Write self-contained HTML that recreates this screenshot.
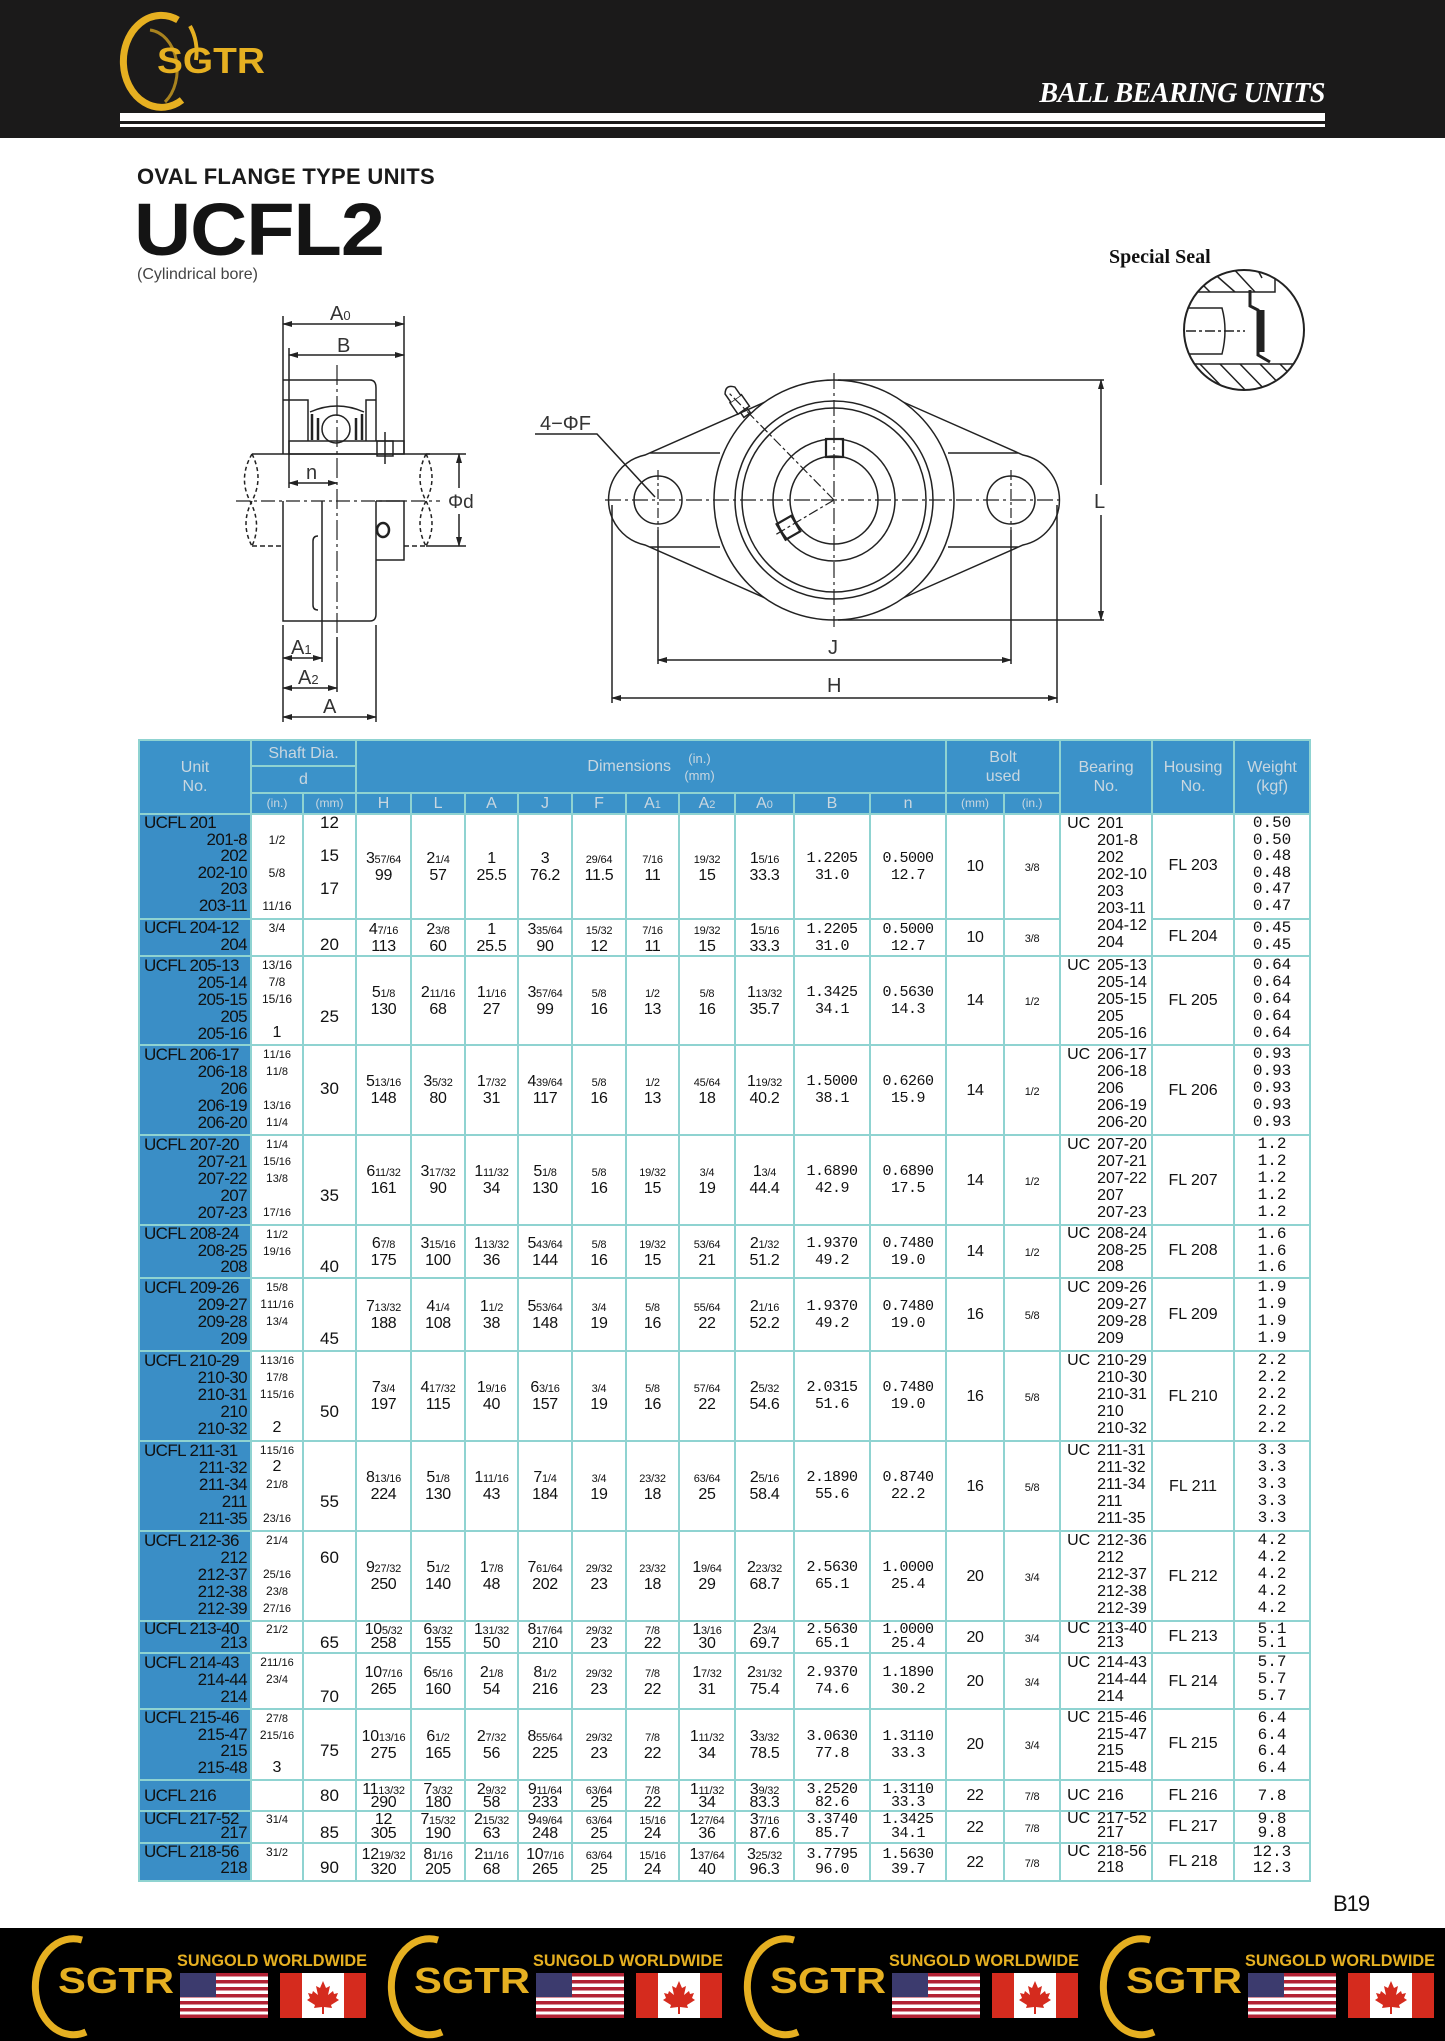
<!DOCTYPE html>
<html><head><meta charset="utf-8">
<style>
*{margin:0;padding:0;box-sizing:border-box}
body{width:1445px;height:2041px;position:relative;background:#fff;font-family:"Liberation Sans",sans-serif;color:#111;overflow:hidden}
.abs{position:absolute}
#hdr{left:0;top:0;width:1445px;height:138px;background:#1b1a1a}
#ftr{left:0;top:1928px;width:1445px;height:113px;background:#000}
table{position:absolute;left:138px;top:739px;width:1171px;border-collapse:collapse;table-layout:fixed;font-size:16px}
td{border:2px solid #8fd3d1;padding:0;text-align:center;vertical-align:middle;overflow:hidden;white-space:nowrap}
td small,td .big,td .sm{line-height:0}
tr.h td{background:#3b92c9;color:#c9d7e0;font-size:16px;line-height:19px}
tr.h td.s{font-size:12px}
td.u{background:#3a8ec6;vertical-align:top;padding:0 3px 0 4px;font-size:17px;letter-spacing:-0.6px}
td.u div{text-align:right}
td.u div.f{text-align:left}
td.l{vertical-align:top;font-size:12px}
td.l .big{font-size:16px}
td.l small{font-size:11px}
td.m{vertical-align:top;font-size:17px}
td.d{line-height:17px;font-size:16px;letter-spacing:-0.3px}
td.d small{font-size:11px;letter-spacing:-0.2px}
td.d.mo{font-family:"Liberation Mono",monospace;font-size:15px;letter-spacing:-0.5px}
td.b{vertical-align:top;text-align:left;padding-left:36px;font-size:16px}
.uc{display:inline-block;width:30px;margin-left:-30px}
td.w{vertical-align:top;font-family:"Liberation Mono",monospace;font-size:16px}
td.fl{font-size:16px}
.sm{font-size:11px}
</style></head><body>
<div id="hdr" class="abs"></div>
<div id="ftr" class="abs"></div>
<div class="abs" style="left:120px;top:113px;width:1205px;height:8px;background:#fff"></div>
<div class="abs" style="left:120px;top:124px;width:1205px;height:3px;background:#fff"></div>
<div class="abs" style="left:990px;top:78px;width:335px;text-align:right;font:italic bold 28px 'Liberation Serif',serif;color:#fff;letter-spacing:-0.5px">BALL BEARING UNITS</div>
<div class="abs" style="left:137px;top:164px;font:bold 22px 'Liberation Sans',sans-serif;color:#1a1a1a;letter-spacing:0.3px">OVAL FLANGE TYPE UNITS</div>
<div class="abs" style="left:134px;top:190px;font:900 74px/80px 'Liberation Sans',sans-serif;color:#141414;letter-spacing:-1px;transform:scaleX(1.07);transform-origin:left">UCFL2</div>
<div class="abs" style="left:137px;top:266px;font-size:16px;color:#444">(Cylindrical bore)</div>
<div class="abs" style="left:1109px;top:246px;font:bold 20px 'Liberation Serif',serif;color:#111">Special Seal</div>
<div class="abs" style="left:1333px;top:1891px;font-size:22px;color:#111;letter-spacing:-1px">B19</div>

<svg class="abs" style="left:0;top:0" width="1445" height="2041" viewBox="0 0 1445 2041">
<defs>
<marker id="ar" markerWidth="10" markerHeight="6" refX="9" refY="3" orient="auto-start-reverse" markerUnits="userSpaceOnUse"><path d="M0,0 L10,3 L0,6z" fill="#222"/></marker>
<g id="usf"><rect width="88" height="45" fill="#fff"/>
<g fill="#b22234"><rect y="0" width="88" height="3.5"/><rect y="7" width="88" height="3.5"/><rect y="14" width="88" height="3.5"/><rect y="21" width="88" height="3.5"/><rect y="28" width="88" height="3.5"/><rect y="35" width="88" height="3.5"/><rect y="41.5" width="88" height="3.5"/></g>
<rect width="36" height="24" fill="#3c3b6e"/></g>
<g id="caf"><rect width="86" height="45" fill="#fff"/><rect width="22" height="45" fill="#d52b1e"/><rect x="64" width="22" height="45" fill="#d52b1e"/>
<path d="M43,8 L46,15 L50,13 L48,22 L53,18 L54,21 L58,20 L56,25 L59,27 L51,32 L52,35 L44,34 L44,41 L42,41 L42,34 L34,35 L35,32 L27,27 L30,25 L28,20 L32,21 L33,18 L38,22 L36,13 L40,15z" fill="#d52b1e"/></g>
</defs>

<!-- header logo -->
<g fill="none" stroke="#e6b021" stroke-width="7">
<path d="M178,20 A38,46 0 1 0 182,100"/>
<path d="M190,26 A34,44 0 0 1 196,60" stroke-width="4"/>
<path d="M165,102 A30,40 0 0 0 150,30" stroke-width="3" opacity="0.7"/>
</g>
<text x="157" y="73" font-family="Liberation Sans" font-weight="bold" font-size="36" fill="#e6b021" textLength="108" lengthAdjust="spacingAndGlyphs">SGTR</text>

<!-- side view -->
<g stroke="#222" stroke-width="1.5" fill="none">
<line x1="283" y1="316" x2="283" y2="380"/>
<line x1="404" y1="316" x2="404" y2="454"/>
<line x1="283" y1="324" x2="404" y2="324" marker-start="url(#ar)" marker-end="url(#ar)"/>
<line x1="289" y1="348" x2="289" y2="488"/>
<line x1="289" y1="355" x2="404" y2="355" marker-start="url(#ar)" marker-end="url(#ar)"/>
<path d="M283,380 L370,380 Q376,380 376,388 L376,441"/>
<line x1="283" y1="380" x2="283" y2="454"/>
<path d="M283,400 L308,400 L308,441"/>
<path d="M366,441 L366,400 L376,400"/>
<path d="M310,412 Q337,400 364,412"/>
<circle cx="336" cy="429" r="14"/>
<path d="M312,414 L312,440 M318,418 L318,440 M356,418 L356,440 M362,414 L362,440" stroke-width="2.5"/>
<rect x="289" y="441" width="115" height="13"/>
<rect x="377" y="441" width="16" height="15"/>
<line x1="385" y1="432" x2="385" y2="464"/>
<line x1="252" y1="454" x2="430" y2="454"/>
<path d="M252,546 L283,546 M404,546 L426,546" stroke-dasharray="5 3"/>
<path d="M252,454 Q238,478 250,501 Q262,524 252,546" stroke-dasharray="4 3"/>
<path d="M252,454 Q264,478 252,501 Q240,524 252,546" stroke-dasharray="4 3"/>
<path d="M426,454 Q414,478 426,501 Q438,524 426,546" stroke-dasharray="4 3"/>
<path d="M426,454 Q438,478 426,501 Q414,524 426,546" stroke-dasharray="4 3"/>
<path d="M236,501 L440,501" stroke-dasharray="14 4 3 4" stroke-width="1.2"/>
<path d="M283,501 L283,621 L370,621 Q376,621 376,614 L376,501"/>
<path d="M376,501 L404,501 L404,560 L376,560"/>
<path d="M318,536 Q313,536 313,541 L313,605 Q313,610 318,610"/>
<line x1="322" y1="501" x2="322" y2="662"/>
<ellipse cx="383" cy="530" rx="6" ry="7" stroke-width="2.5"/>
<path d="M337,365 L337,637" stroke-dasharray="20 4 3 4" stroke-width="1.2"/>
<line x1="337" y1="637" x2="337" y2="692"/>
<line x1="426" y1="454" x2="466" y2="454"/>
<line x1="426" y1="546" x2="466" y2="546"/>
<line x1="459" y1="454" x2="459" y2="488" marker-start="url(#ar)"/>
<line x1="459" y1="514" x2="459" y2="546" marker-end="url(#ar)"/>
<line x1="289" y1="483" x2="337" y2="483" marker-start="url(#ar)" marker-end="url(#ar)"/>
<line x1="283" y1="625" x2="283" y2="722"/>
<line x1="376" y1="625" x2="376" y2="722"/>
<line x1="283" y1="658" x2="322" y2="658" marker-start="url(#ar)" marker-end="url(#ar)"/>
<line x1="283" y1="688" x2="337" y2="688" marker-start="url(#ar)" marker-end="url(#ar)"/>
<line x1="283" y1="717" x2="376" y2="717" marker-start="url(#ar)" marker-end="url(#ar)"/>
</g>
<g font-family="Liberation Sans" font-size="20" fill="#333">
<text x="330" y="320">A<tspan font-size="13">0</tspan></text>
<text x="337" y="352">B</text>
<text x="306" y="479">n</text>
<text x="448" y="508" font-size="19">Φd</text>
<text x="291" y="654">A<tspan font-size="13">1</tspan></text>
<text x="298" y="684">A<tspan font-size="13">2</tspan></text>
<text x="323" y="713">A</text>
</g>

<!-- front view -->
<g stroke="#222" stroke-width="1.5" fill="none">
<path d="M765,402 L645,455 A46,46 0 0 0 645,545 L765,598"/>
<path d="M903,402 L1023,455 A46,46 0 0 1 1023,545 L903,598"/>
<path d="M650,453 L720,453 M650,547 L720,547 M948,453 L1018,453 M948,547 L1018,547"/>
<circle cx="834" cy="500" r="120" fill="#fff"/>
<circle cx="834" cy="500" r="99"/>
<circle cx="834" cy="500" r="92"/>
<circle cx="834" cy="500" r="61"/>
<circle cx="834" cy="500" r="44"/>
<circle cx="658" cy="500" r="24"/>
<circle cx="1011" cy="500" r="24"/>
<rect x="826" y="439" width="17" height="18" stroke-width="2.2"/>
<rect x="780" y="519" width="17" height="18" transform="rotate(-30 788 528)" stroke-width="2.2"/>
<g transform="rotate(-35 738 402)"><rect x="731" y="398" width="14" height="14" fill="#fff"/><path d="M732,398 L732,388 Q738,380 744,388 L744,398" fill="#fff"/><rect x="734" y="412" width="8" height="6"/></g>
<path d="M605,500 L1063,500" stroke-dasharray="16 4 3 4" stroke-width="1.2"/>
<path d="M834,373 L834,627" stroke-dasharray="16 4 3 4" stroke-width="1.2"/>
<path d="M658,470 L658,530 M1011,470 L1011,530" stroke-dasharray="10 3 3 3" stroke-width="1.2"/>
<path d="M834,500 L728,392 M834,500 L775,535" stroke-dasharray="10 3 3 3" stroke-width="1.2"/>
<line x1="658" y1="530" x2="658" y2="664"/>
<line x1="1011" y1="530" x2="1011" y2="664"/>
<line x1="658" y1="660" x2="1011" y2="660" marker-start="url(#ar)" marker-end="url(#ar)"/>
<line x1="612" y1="505" x2="612" y2="703"/>
<line x1="1057" y1="505" x2="1057" y2="703"/>
<line x1="612" y1="698" x2="1057" y2="698" marker-start="url(#ar)" marker-end="url(#ar)"/>
<line x1="838" y1="380" x2="1104" y2="380"/>
<line x1="838" y1="620" x2="1104" y2="620"/>
<line x1="1101" y1="380" x2="1101" y2="485" marker-start="url(#ar)"/>
<line x1="1101" y1="515" x2="1101" y2="620" marker-end="url(#ar)"/>
<path d="M535,434 L597,434 L655,497"/>
</g>
<g font-family="Liberation Sans" font-size="20" fill="#333">
<text x="540" y="430">4−ΦF</text>
<text x="828" y="654">J</text>
<text x="827" y="692">H</text>
<text x="1094" y="508">L</text>
</g>

<!-- special seal -->
<g stroke="#222" stroke-width="1.5" fill="none">
<clipPath id="sc"><circle cx="1244" cy="330" r="60"/></clipPath>
<g clip-path="url(#sc)">
<path d="M1180,308 L1222,308 Q1228,330 1222,354 L1180,354"/>
<path d="M1186,331 L1245,331" stroke-dasharray="10 3 3 3"/>
<path d="M1180,364 L1310,364"/>
<path d="M1200,364 L1230,395 M1220,364 L1250,395 M1240,364 L1270,395 M1260,364 L1290,395 M1280,364 L1310,395"/>
<path d="M1190,292 L1275,292 L1275,270"/>
<path d="M1210,270 L1235,292 M1230,265 L1255,292 M1255,265 L1262,278 M1200,282 L1210,292"/>
<path d="M1250,290 L1250,306 L1258,310 L1258,355 L1270,362" stroke-width="3"/>
<path d="M1262,310 L1262,352" stroke-width="5"/>
</g>
<circle cx="1244" cy="330" r="60" stroke-width="2"/>
</g>

<!-- footer units -->
<g>
<g fill="none" stroke="#e6b021" stroke-width="7">
<path d="M82,1940 A38,48 0 1 0 86,2032"/>
<path d="M438,1940 A38,48 0 1 0 442,2032"/>
<path d="M794,1940 A38,48 0 1 0 798,2032"/>
<path d="M1150,1940 A38,48 0 1 0 1154,2032"/>
</g>
<g font-family="Liberation Sans" font-weight="bold" font-size="36" fill="#e6b021">
<text x="58" y="1993" textLength="116" lengthAdjust="spacingAndGlyphs">SGTR</text>
<text x="414" y="1993" textLength="116" lengthAdjust="spacingAndGlyphs">SGTR</text>
<text x="770" y="1993" textLength="116" lengthAdjust="spacingAndGlyphs">SGTR</text>
<text x="1126" y="1993" textLength="116" lengthAdjust="spacingAndGlyphs">SGTR</text>
</g>
<g font-family="Liberation Sans" font-weight="bold" font-size="17" fill="#e6b021">
<text x="177" y="1966" textLength="190" lengthAdjust="spacingAndGlyphs">SUNGOLD WORLDWIDE</text>
<text x="533" y="1966" textLength="190" lengthAdjust="spacingAndGlyphs">SUNGOLD WORLDWIDE</text>
<text x="889" y="1966" textLength="190" lengthAdjust="spacingAndGlyphs">SUNGOLD WORLDWIDE</text>
<text x="1245" y="1966" textLength="190" lengthAdjust="spacingAndGlyphs">SUNGOLD WORLDWIDE</text>
</g>
<use href="#usf" x="180" y="1973"/><use href="#caf" x="280" y="1973"/>
<use href="#usf" x="536" y="1973"/><use href="#caf" x="636" y="1973"/>
<use href="#usf" x="892" y="1973"/><use href="#caf" x="992" y="1973"/>
<use href="#usf" x="1248" y="1973"/><use href="#caf" x="1348" y="1973"/>
</g>
</svg>

<table>
<colgroup><col style="width:112px"><col style="width:52px"><col style="width:53px"><col style="width:55px"><col style="width:54px"><col style="width:53px"><col style="width:54px"><col style="width:54px"><col style="width:53px"><col style="width:56px"><col style="width:59px"><col style="width:76px"><col style="width:76px"><col style="width:58px"><col style="width:56px"><col style="width:92px"><col style="width:82px"><col style="width:76px"></colgroup>
<tr class="h" style="height:26px"><td rowspan="3">Unit<br>No.</td><td colspan="2">Shaft Dia.</td><td colspan="10" rowspan="2">Dimensions &nbsp;&nbsp;<span style="display:inline-block;font-size:13px;line-height:17px;vertical-align:middle">(in.)<br>(mm)</span></td><td colspan="2" rowspan="2">Bolt<br>used</td><td rowspan="3">Bearing<br>No.</td><td rowspan="3">Housing<br>No.</td><td rowspan="3">Weight<br>(kgf)</td></tr>
<tr class="h" style="height:27px"><td colspan="2">d</td></tr>
<tr class="h" style="height:21px"><td class="s">(in.)</td><td class="s">(mm)</td><td>H</td><td>L</td><td>A</td><td>J</td><td>F</td><td>A<span class="sm">1</span></td><td>A<span class="sm">2</span></td><td>A<span class="sm">0</span></td><td>B</td><td>n</td><td class="s">(mm)</td><td class="s">(in.)</td></tr>

<tr style="height:105px;line-height:16.5px"><td class="u"><div class="f">UCFL 201</div><div>201-8</div><div>202</div><div>202-10</div><div>203</div><div>203-11</div></td>
<td class="l">&nbsp;<br>1/2<br>&nbsp;<br>5/8<br>&nbsp;<br>11/16</td><td class="m">12<br>&nbsp;<br>15<br>&nbsp;<br>17<br>&nbsp;</td>
<td class="d">3<small>57/64</small><br>99</td><td class="d">2<small>1/4</small><br>57</td><td class="d">1<br>25.5</td><td class="d">3<br>76.2</td><td class="d"><small>29/64</small><br>11.5</td><td class="d"><small>7/16</small><br>11</td><td class="d"><small>19/32</small><br>15</td><td class="d">1<small>5/16</small><br>33.3</td><td class="d mo">1.2205<br>31.0</td><td class="d mo">0.5000<br>12.7</td><td class="d">10</td><td class="d"><small>3/8</small></td>
<td class="b" rowspan="2" style="line-height:17px"><span class="uc">UC</span>201<br>201-8<br>202<br>202-10<br>203<br>203-11<br>204-12<br>204</td><td class="fl">FL 203</td><td class="w">0.50<br>0.50<br>0.48<br>0.48<br>0.47<br>0.47</td></tr>

<tr style="height:37px;line-height:16.5px"><td class="u"><div class="f">UCFL 204-12</div><div>204</div></td>
<td class="l">3/4<br>&nbsp;</td><td class="m">&nbsp;<br>20</td>
<td class="d">4<small>7/16</small><br>113</td><td class="d">2<small>3/8</small><br>60</td><td class="d">1<br>25.5</td><td class="d">3<small>35/64</small><br>90</td><td class="d"><small>15/32</small><br>12</td><td class="d"><small>7/16</small><br>11</td><td class="d"><small>19/32</small><br>15</td><td class="d">1<small>5/16</small><br>33.3</td><td class="d mo">1.2205<br>31.0</td><td class="d mo">0.5000<br>12.7</td><td class="d">10</td><td class="d"><small>3/8</small></td>
<td class="fl">FL 204</td><td class="w">0.45<br>0.45</td></tr>

<tr style="height:89px;line-height:17px"><td class="u"><div class="f">UCFL 205-13</div><div>205-14</div><div>205-15</div><div>205</div><div>205-16</div></td>
<td class="l">13/16<br>7/8<br>15/16<br>&nbsp;<br><span class="big">1</span></td><td class="m">&nbsp;<br>&nbsp;<br>&nbsp;<br>25<br>&nbsp;</td>
<td class="d">5<small>1/8</small><br>130</td><td class="d">2<small>11/16</small><br>68</td><td class="d">1<small>1/16</small><br>27</td><td class="d">3<small>57/64</small><br>99</td><td class="d"><small>5/8</small><br>16</td><td class="d"><small>1/2</small><br>13</td><td class="d"><small>5/8</small><br>16</td><td class="d">1<small>13/32</small><br>35.7</td><td class="d mo">1.3425<br>34.1</td><td class="d mo">0.5630<br>14.3</td><td class="d">14</td><td class="d"><small>1/2</small></td>
<td class="b"><span class="uc">UC</span>205-13<br>205-14<br>205-15<br>205<br>205-16</td><td class="fl">FL 205</td><td class="w">0.64<br>0.64<br>0.64<br>0.64<br>0.64</td></tr>

<tr style="height:90px;line-height:17px"><td class="u"><div class="f">UCFL 206-17</div><div>206-18</div><div>206</div><div>206-19</div><div>206-20</div></td>
<td class="l">1<small>1/16</small><br>1<small>1/8</small><br>&nbsp;<br>1<small>3/16</small><br>1<small>1/4</small></td><td class="m">&nbsp;<br>&nbsp;<br>30<br>&nbsp;<br>&nbsp;</td>
<td class="d">5<small>13/16</small><br>148</td><td class="d">3<small>5/32</small><br>80</td><td class="d">1<small>7/32</small><br>31</td><td class="d">4<small>39/64</small><br>117</td><td class="d"><small>5/8</small><br>16</td><td class="d"><small>1/2</small><br>13</td><td class="d"><small>45/64</small><br>18</td><td class="d">1<small>19/32</small><br>40.2</td><td class="d mo">1.5000<br>38.1</td><td class="d mo">0.6260<br>15.9</td><td class="d">14</td><td class="d"><small>1/2</small></td>
<td class="b"><span class="uc">UC</span>206-17<br>206-18<br>206<br>206-19<br>206-20</td><td class="fl">FL 206</td><td class="w">0.93<br>0.93<br>0.93<br>0.93<br>0.93</td></tr>

<tr style="height:90px;line-height:17px"><td class="u"><div class="f">UCFL 207-20</div><div>207-21</div><div>207-22</div><div>207</div><div>207-23</div></td>
<td class="l">1<small>1/4</small><br>1<small>5/16</small><br>1<small>3/8</small><br>&nbsp;<br>1<small>7/16</small></td><td class="m">&nbsp;<br>&nbsp;<br>&nbsp;<br>35<br>&nbsp;</td>
<td class="d">6<small>11/32</small><br>161</td><td class="d">3<small>17/32</small><br>90</td><td class="d">1<small>11/32</small><br>34</td><td class="d">5<small>1/8</small><br>130</td><td class="d"><small>5/8</small><br>16</td><td class="d"><small>19/32</small><br>15</td><td class="d"><small>3/4</small><br>19</td><td class="d">1<small>3/4</small><br>44.4</td><td class="d mo">1.6890<br>42.9</td><td class="d mo">0.6890<br>17.5</td><td class="d">14</td><td class="d"><small>1/2</small></td>
<td class="b"><span class="uc">UC</span>207-20<br>207-21<br>207-22<br>207<br>207-23</td><td class="fl">FL 207</td><td class="w">1.2<br>1.2<br>1.2<br>1.2<br>1.2</td></tr>

<tr style="height:53px;line-height:16.5px"><td class="u"><div class="f">UCFL 208-24</div><div>208-25</div><div>208</div></td>
<td class="l">1<small>1/2</small><br>1<small>9/16</small><br>&nbsp;</td><td class="m">&nbsp;<br>&nbsp;<br>40</td>
<td class="d">6<small>7/8</small><br>175</td><td class="d">3<small>15/16</small><br>100</td><td class="d">1<small>13/32</small><br>36</td><td class="d">5<small>43/64</small><br>144</td><td class="d"><small>5/8</small><br>16</td><td class="d"><small>19/32</small><br>15</td><td class="d"><small>53/64</small><br>21</td><td class="d">2<small>1/32</small><br>51.2</td><td class="d mo">1.9370<br>49.2</td><td class="d mo">0.7480<br>19.0</td><td class="d">14</td><td class="d"><small>1/2</small></td>
<td class="b"><span class="uc">UC</span>208-24<br>208-25<br>208</td><td class="fl">FL 208</td><td class="w">1.6<br>1.6<br>1.6</td></tr>

<tr style="height:73px;line-height:17px"><td class="u"><div class="f">UCFL 209-26</div><div>209-27</div><div>209-28</div><div>209</div></td>
<td class="l">1<small>5/8</small><br>1<small>11/16</small><br>1<small>3/4</small><br>&nbsp;</td><td class="m">&nbsp;<br>&nbsp;<br>&nbsp;<br>45</td>
<td class="d">7<small>13/32</small><br>188</td><td class="d">4<small>1/4</small><br>108</td><td class="d">1<small>1/2</small><br>38</td><td class="d">5<small>53/64</small><br>148</td><td class="d"><small>3/4</small><br>19</td><td class="d"><small>5/8</small><br>16</td><td class="d"><small>55/64</small><br>22</td><td class="d">2<small>1/16</small><br>52.2</td><td class="d mo">1.9370<br>49.2</td><td class="d mo">0.7480<br>19.0</td><td class="d">16</td><td class="d"><small>5/8</small></td>
<td class="b"><span class="uc">UC</span>209-26<br>209-27<br>209-28<br>209</td><td class="fl">FL 209</td><td class="w">1.9<br>1.9<br>1.9<br>1.9</td></tr>

<tr style="height:90px;line-height:17px"><td class="u"><div class="f">UCFL 210-29</div><div>210-30</div><div>210-31</div><div>210</div><div>210-32</div></td>
<td class="l">1<small>13/16</small><br>1<small>7/8</small><br>1<small>15/16</small><br>&nbsp;<br><span class="big">2</span></td><td class="m">&nbsp;<br>&nbsp;<br>&nbsp;<br>50<br>&nbsp;</td>
<td class="d">7<small>3/4</small><br>197</td><td class="d">4<small>17/32</small><br>115</td><td class="d">1<small>9/16</small><br>40</td><td class="d">6<small>3/16</small><br>157</td><td class="d"><small>3/4</small><br>19</td><td class="d"><small>5/8</small><br>16</td><td class="d"><small>57/64</small><br>22</td><td class="d">2<small>5/32</small><br>54.6</td><td class="d mo">2.0315<br>51.6</td><td class="d mo">0.7480<br>19.0</td><td class="d">16</td><td class="d"><small>5/8</small></td>
<td class="b"><span class="uc">UC</span>210-29<br>210-30<br>210-31<br>210<br>210-32</td><td class="fl">FL 210</td><td class="w">2.2<br>2.2<br>2.2<br>2.2<br>2.2</td></tr>

<tr style="height:90px;line-height:17px"><td class="u"><div class="f">UCFL 211-31</div><div>211-32</div><div>211-34</div><div>211</div><div>211-35</div></td>
<td class="l">1<small>15/16</small><br><span class="big">2</span><br>2<small>1/8</small><br>&nbsp;<br>2<small>3/16</small></td><td class="m">&nbsp;<br>&nbsp;<br>&nbsp;<br>55<br>&nbsp;</td>
<td class="d">8<small>13/16</small><br>224</td><td class="d">5<small>1/8</small><br>130</td><td class="d">1<small>11/16</small><br>43</td><td class="d">7<small>1/4</small><br>184</td><td class="d"><small>3/4</small><br>19</td><td class="d"><small>23/32</small><br>18</td><td class="d"><small>63/64</small><br>25</td><td class="d">2<small>5/16</small><br>58.4</td><td class="d mo">2.1890<br>55.6</td><td class="d mo">0.8740<br>22.2</td><td class="d">16</td><td class="d"><small>5/8</small></td>
<td class="b"><span class="uc">UC</span>211-31<br>211-32<br>211-34<br>211<br>211-35</td><td class="fl">FL 211</td><td class="w">3.3<br>3.3<br>3.3<br>3.3<br>3.3</td></tr>

<tr style="height:90px;line-height:17px"><td class="u"><div class="f">UCFL 212-36</div><div>212</div><div>212-37</div><div>212-38</div><div>212-39</div></td>
<td class="l">2<small>1/4</small><br>&nbsp;<br>2<small>5/16</small><br>2<small>3/8</small><br>2<small>7/16</small></td><td class="m">&nbsp;<br>60<br>&nbsp;<br>&nbsp;<br>&nbsp;</td>
<td class="d">9<small>27/32</small><br>250</td><td class="d">5<small>1/2</small><br>140</td><td class="d">1<small>7/8</small><br>48</td><td class="d">7<small>61/64</small><br>202</td><td class="d"><small>29/32</small><br>23</td><td class="d"><small>23/32</small><br>18</td><td class="d">1<small>9/64</small><br>29</td><td class="d">2<small>23/32</small><br>68.7</td><td class="d mo">2.5630<br>65.1</td><td class="d mo">1.0000<br>25.4</td><td class="d">20</td><td class="d"><small>3/4</small></td>
<td class="b"><span class="uc">UC</span>212-36<br>212<br>212-37<br>212-38<br>212-39</td><td class="fl">FL 212</td><td class="w">4.2<br>4.2<br>4.2<br>4.2<br>4.2</td></tr>

<tr style="height:32px;line-height:14px"><td class="u"><div class="f">UCFL 213-40</div><div>213</div></td>
<td class="l">2<small>1/2</small><br>&nbsp;</td><td class="m">&nbsp;<br>65</td>
<td class="d" style="line-height:14px">10<small>5/32</small><br>258</td><td class="d" style="line-height:14px">6<small>3/32</small><br>155</td><td class="d" style="line-height:14px">1<small>31/32</small><br>50</td><td class="d" style="line-height:14px">8<small>17/64</small><br>210</td><td class="d" style="line-height:14px"><small>29/32</small><br>23</td><td class="d" style="line-height:14px"><small>7/8</small><br>22</td><td class="d" style="line-height:14px">1<small>3/16</small><br>30</td><td class="d" style="line-height:14px">2<small>3/4</small><br>69.7</td><td class="d mo" style="line-height:14px">2.5630<br>65.1</td><td class="d mo" style="line-height:14px">1.0000<br>25.4</td><td class="d">20</td><td class="d"><small>3/4</small></td>
<td class="b"><span class="uc">UC</span>213-40<br>213</td><td class="fl">FL 213</td><td class="w">5.1<br>5.1</td></tr>

<tr style="height:56px;line-height:17px"><td class="u"><div class="f">UCFL 214-43</div><div>214-44</div><div>214</div></td>
<td class="l">2<small>11/16</small><br>2<small>3/4</small><br>&nbsp;</td><td class="m">&nbsp;<br>&nbsp;<br>70</td>
<td class="d">10<small>7/16</small><br>265</td><td class="d">6<small>5/16</small><br>160</td><td class="d">2<small>1/8</small><br>54</td><td class="d">8<small>1/2</small><br>216</td><td class="d"><small>29/32</small><br>23</td><td class="d"><small>7/8</small><br>22</td><td class="d">1<small>7/32</small><br>31</td><td class="d">2<small>31/32</small><br>75.4</td><td class="d mo">2.9370<br>74.6</td><td class="d mo">1.1890<br>30.2</td><td class="d">20</td><td class="d"><small>3/4</small></td>
<td class="b"><span class="uc">UC</span>214-43<br>214-44<br>214</td><td class="fl">FL 214</td><td class="w">5.7<br>5.7<br>5.7</td></tr>

<tr style="height:71px;line-height:16.5px"><td class="u"><div class="f">UCFL 215-46</div><div>215-47</div><div>215</div><div>215-48</div></td>
<td class="l">2<small>7/8</small><br>2<small>15/16</small><br>&nbsp;<br><span class="big">3</span></td><td class="m">&nbsp;<br>&nbsp;<br>75<br>&nbsp;</td>
<td class="d">10<small>13/16</small><br>275</td><td class="d">6<small>1/2</small><br>165</td><td class="d">2<small>7/32</small><br>56</td><td class="d">8<small>55/64</small><br>225</td><td class="d"><small>29/32</small><br>23</td><td class="d"><small>7/8</small><br>22</td><td class="d">1<small>11/32</small><br>34</td><td class="d">3<small>3/32</small><br>78.5</td><td class="d mo">3.0630<br>77.8</td><td class="d mo">1.3110<br>33.3</td><td class="d">20</td><td class="d"><small>3/4</small></td>
<td class="b"><span class="uc">UC</span>215-46<br>215-47<br>215<br>215-48</td><td class="fl">FL 215</td><td class="w">6.4<br>6.4<br>6.4<br>6.4</td></tr>

<tr style="height:31px;line-height:14px"><td class="u" style="vertical-align:middle"><div class="f">UCFL 216</div></td>
<td class="l">&nbsp;</td><td class="m" style="vertical-align:middle">80</td>
<td class="d" style="line-height:13px">11<small>13/32</small><br>290</td><td class="d" style="line-height:13px">7<small>3/32</small><br>180</td><td class="d" style="line-height:13px">2<small>9/32</small><br>58</td><td class="d" style="line-height:13px">9<small>11/64</small><br>233</td><td class="d" style="line-height:13px"><small>63/64</small><br>25</td><td class="d" style="line-height:13px"><small>7/8</small><br>22</td><td class="d" style="line-height:13px">1<small>11/32</small><br>34</td><td class="d" style="line-height:13px">3<small>9/32</small><br>83.3</td><td class="d mo" style="line-height:13px">3.2520<br>82.6</td><td class="d mo" style="line-height:13px">1.3110<br>33.3</td><td class="d">22</td><td class="d"><small>7/8</small></td>
<td class="b" style="vertical-align:middle"><span class="uc">UC</span>216</td><td class="fl">FL 216</td><td class="w" style="vertical-align:middle">7.8</td></tr>

<tr style="height:32px;line-height:14px"><td class="u"><div class="f">UCFL 217-52</div><div>217</div></td>
<td class="l">3<small>1/4</small><br>&nbsp;</td><td class="m">&nbsp;<br>85</td>
<td class="d" style="line-height:14px">12<br>305</td><td class="d" style="line-height:14px">7<small>15/32</small><br>190</td><td class="d" style="line-height:14px">2<small>15/32</small><br>63</td><td class="d" style="line-height:14px">9<small>49/64</small><br>248</td><td class="d" style="line-height:14px"><small>63/64</small><br>25</td><td class="d" style="line-height:14px"><small>15/16</small><br>24</td><td class="d" style="line-height:14px">1<small>27/64</small><br>36</td><td class="d" style="line-height:14px">3<small>7/16</small><br>87.6</td><td class="d mo" style="line-height:14px">3.3740<br>85.7</td><td class="d mo" style="line-height:14px">1.3425<br>34.1</td><td class="d">22</td><td class="d"><small>7/8</small></td>
<td class="b"><span class="uc">UC</span>217-52<br>217</td><td class="fl">FL 217</td><td class="w">9.8<br>9.8</td></tr>

<tr style="height:38px;line-height:16px"><td class="u"><div class="f">UCFL 218-56</div><div>218</div></td>
<td class="l">3<small>1/2</small><br>&nbsp;</td><td class="m">&nbsp;<br>90</td>
<td class="d" style="line-height:15px">12<small>19/32</small><br>320</td><td class="d" style="line-height:15px">8<small>1/16</small><br>205</td><td class="d" style="line-height:15px">2<small>11/16</small><br>68</td><td class="d" style="line-height:15px">10<small>7/16</small><br>265</td><td class="d" style="line-height:15px"><small>63/64</small><br>25</td><td class="d" style="line-height:15px"><small>15/16</small><br>24</td><td class="d" style="line-height:15px">1<small>37/64</small><br>40</td><td class="d" style="line-height:15px">3<small>25/32</small><br>96.3</td><td class="d mo" style="line-height:15px">3.7795<br>96.0</td><td class="d mo" style="line-height:15px">1.5630<br>39.7</td><td class="d">22</td><td class="d"><small>7/8</small></td>
<td class="b"><span class="uc">UC</span>218-56<br>218</td><td class="fl">FL 218</td><td class="w">12.3<br>12.3</td></tr>
</table>
</body></html>
